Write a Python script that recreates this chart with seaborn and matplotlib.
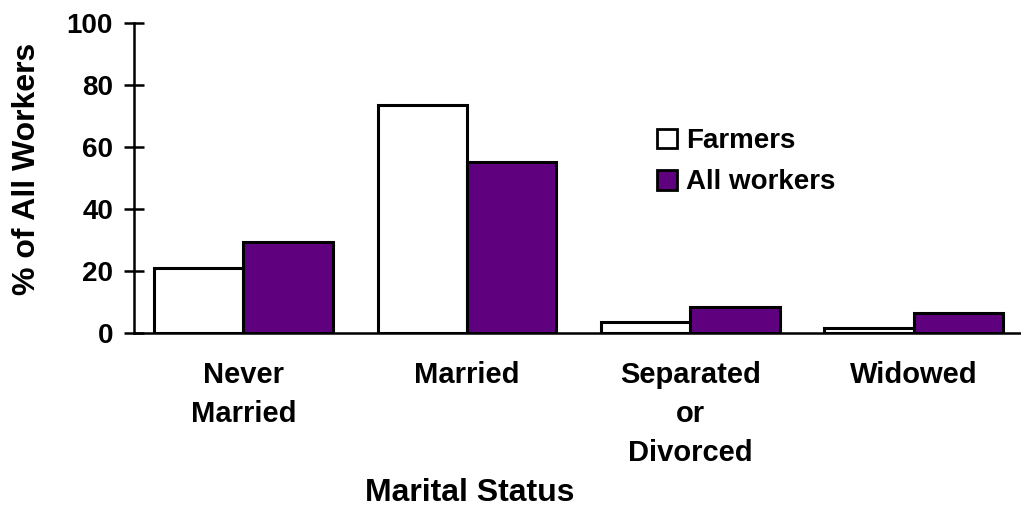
import pandas as pd
import matplotlib
matplotlib.use('Agg')
import matplotlib.pyplot as plt
import seaborn as sns

# data
categories = ["Never\nMarried", "Married", "Separated\nor\nDivorced", "Widowed"]
farmers = [20.8, 73.4, 3.6, 1.7]
all_workers = [29.4, 55.2, 8.3, 6.5]
series_names = ["Farmers", "All workers"]
y_ticks = [0, 20, 40, 60, 80, 100]

df = pd.DataFrame({
    "status": categories * 2,
    "pct": farmers + all_workers,
    "group": [series_names[0]] * len(categories) + [series_names[1]] * len(categories),
})

sns.set_style("white")
plt.rcParams['font.family'] = ['Liberation Sans', 'DejaVu Sans']
plt.rcParams['font.weight'] = 'bold'
# seaborn's style uses dark grey text; the reference is pure black
for key in ["text.color", "axes.labelcolor", "xtick.color", "ytick.color"]:
    plt.rcParams[key] = "black"

fig = plt.figure(figsize=(10.21, 5.09), dpi=100)
ax = fig.add_axes([0.1312, 0.3458, 0.8688, 0.6096])

sns.barplot(data=df, x="status", y="pct", hue="group", hue_order=series_names,
            palette={"Farmers": "white", "All workers": "#5f007f"}, saturation=1,
            edgecolor="black", linewidth=2.2, width=0.8, ax=ax, legend=True)

ax.set_xlim(-0.49, 3.48)
ax.set_ylim(0, 100)
ax.set_yticks(y_ticks)

for s in ["top", "right"]:
    ax.spines[s].set_visible(False)
for s in ["left", "bottom"]:
    ax.spines[s].set_linewidth(1.8)
    ax.spines[s].set_color("black")

ax.tick_params(axis="y", direction="inout", length=14, width=1.8, pad=8,
               labelsize=20, left=True, colors="black")
ax.tick_params(axis="x", length=0, pad=20, labelsize=21, colors="black")
for lbl in ax.get_xticklabels() + ax.get_yticklabels():
    lbl.set_fontweight("bold")
for lbl in ax.get_xticklabels():
    lbl.set_linespacing(1.5)

ax.set_ylabel("% of All Workers", fontsize=23, fontweight="bold", color="black")
ax.yaxis.set_label_coords(-0.104, 0.53)
ax.set_xlabel("Marital Status", fontsize=23, fontweight="bold", color="black")
ax.xaxis.set_label_coords(0.378, -0.468)

leg = ax.legend(loc="upper left", bbox_to_anchor=(0.59, 0.66), frameon=False,
                handlelength=0.72, handleheight=0.72, handletextpad=0.3,
                labelspacing=0.55, borderpad=0, borderaxespad=0,
                prop={"weight": "bold", "size": 20}, labelcolor="black")
for h in leg.legend_handles:
    h.set_linewidth(2)
    h.set_edgecolor("black")

fig.savefig("out.png", dpi=100)
